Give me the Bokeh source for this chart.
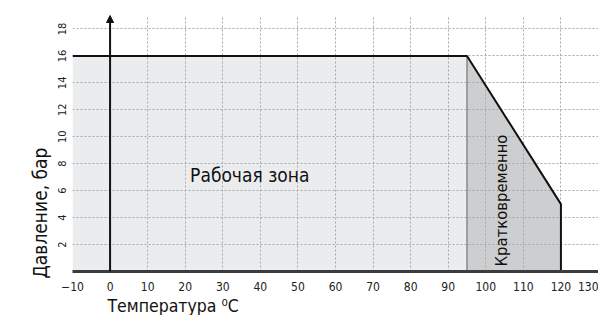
import math
from bokeh.plotting import figure
from bokeh.models import Label, Arrow, NormalHead, FixedTicker, Title
from bokeh.embed import file_html
from bokeh.resources import INLINE

# ---- data ----
temp_ticks = [-10, 0, 10, 20, 30, 40, 50, 60, 70, 80, 90, 100, 110, 120, 130]
pressure_ticks = [2, 4, 6, 8, 10, 12, 14, 16, 18]
work_zone_T = [-10, -10, 95, 95]
work_zone_P = [0, 16, 16, 0]
short_zone_T = [95, 95, 120, 120]
short_zone_P = [0, 16, 5, 0]
boundary_T = [-10, 95, 120, 120]
boundary_P = [16, 16, 5, 0]
x_title = "Температура ⁰C"
y_title = "Давление, бар"
work_label = "Рабочая зона"
short_label = "Кратковременно"

FONT = "DejaVu Sans Condensed"

p = figure(width=598, height=315, x_range=(-10, 130), y_range=(0, 19),
           output_backend="svg", toolbar_location=None,
           min_border_left=72, min_border_right=0, min_border_top=15, min_border_bottom=44)
p.outline_line_color = None
p.background_fill_color = "white"

# zones
p.patch(work_zone_T, work_zone_P, fill_color="#ebecee", line_color=None, level="image")
p.patch(short_zone_T, short_zone_P, fill_color="#cdcecf", line_color=None, level="image")
p.line([short_zone_T[0], short_zone_T[1]], [short_zone_P[0], short_zone_P[1]],
       line_color="#8a8a8a", line_width=1.5)
p.line(boundary_T, boundary_P, line_color="#111111", line_width=2)

# grids
p.xaxis.ticker = FixedTicker(ticks=temp_ticks)
p.yaxis.ticker = FixedTicker(ticks=pressure_ticks)
for g in (p.xgrid, p.ygrid):
    g.grid_line_color = "#a8a8a8"
    g.grid_line_dash = "2 2"
    g.grid_line_width = 1

# axes
p.xaxis.axis_line_width = 3
p.xaxis.axis_line_color = "#3c3c3c"
p.xaxis.major_tick_line_color = None
p.xaxis.minor_tick_line_color = None
p.xaxis.major_label_standoff = 4
p.xaxis.major_label_text_font = FONT
p.xaxis.major_label_text_font_size = "12px"
p.xaxis.major_label_text_color = "#222222"

p.yaxis.axis_line_color = None
p.yaxis.major_tick_line_color = None
p.yaxis.minor_tick_line_color = None
p.yaxis.major_label_orientation = "vertical"
p.yaxis.major_label_standoff = 0
p.yaxis.major_label_text_font = FONT
p.yaxis.major_label_text_font_size = "11px"
p.yaxis.major_label_text_color = "#222222"

# vertical axis at T=0 with arrow
p.add_layout(Arrow(end=NormalHead(size=7, fill_color="#111111", line_color="#111111"),
                   x_start=0, y_start=0, x_end=0, y_end=19,
                   line_color="#111111", line_width=2))

# axis titles as side titles
p.add_layout(Title(text=x_title, align="left", offset=35, standoff=0,
                   text_font=FONT, text_font_size="17.5px", text_font_style="normal",
                   text_color="#111111"), "below")
p.add_layout(Title(text=y_title, align="left", offset=-7, standoff=10,
                   text_font=FONT, text_font_size="19px", text_font_style="normal",
                   text_color="#111111"), "left")

# texts inside the plot
p.add_layout(Label(x=21.3, y=7.13, text=work_label, text_font=FONT,
                   text_font_size="19px", text_color="#111111",
                   text_align="left", text_baseline="middle"))
p.add_layout(Label(x=104.3, y=5.27, text=short_label, text_font=FONT,
                   text_font_size="16.5px", text_color="#111111", angle=math.pi / 2,
                   text_align="center", text_baseline="middle"))

open("out.html", "w").write(file_html(p, INLINE))
